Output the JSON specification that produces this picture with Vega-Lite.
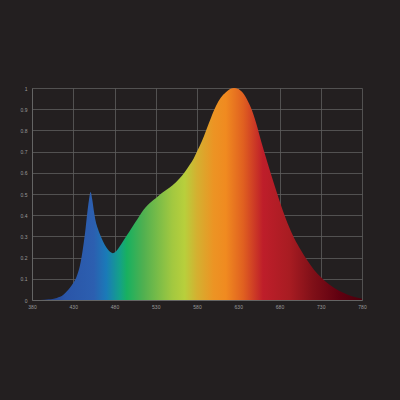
{
  "$schema": "https://vega.github.io/schema/vega-lite/v6.json",
  "width": 330,
  "height": 212,
  "autosize": "none",
  "padding": {"left": 32, "top": 88, "right": 38, "bottom": 100},
  "background": "#231f20",
  "config": {"view": {"stroke": null}},
  "data": {"values": [
    {"nm": 380, "v": 0},
    {"nm": 390, "v": 0},
    {"nm": 400, "v": 0.003},
    {"nm": 410, "v": 0.01},
    {"nm": 418, "v": 0.025},
    {"nm": 422, "v": 0.04},
    {"nm": 426, "v": 0.058},
    {"nm": 430, "v": 0.08},
    {"nm": 434, "v": 0.11},
    {"nm": 438, "v": 0.16},
    {"nm": 442, "v": 0.25},
    {"nm": 445, "v": 0.34},
    {"nm": 447, "v": 0.41},
    {"nm": 449, "v": 0.47},
    {"nm": 451, "v": 0.51},
    {"nm": 453, "v": 0.475},
    {"nm": 455, "v": 0.42},
    {"nm": 457, "v": 0.375},
    {"nm": 460, "v": 0.335},
    {"nm": 464, "v": 0.295},
    {"nm": 468, "v": 0.262},
    {"nm": 472, "v": 0.238},
    {"nm": 475, "v": 0.226},
    {"nm": 478, "v": 0.221},
    {"nm": 481, "v": 0.226},
    {"nm": 485, "v": 0.245},
    {"nm": 490, "v": 0.275},
    {"nm": 495, "v": 0.305},
    {"nm": 500, "v": 0.335},
    {"nm": 505, "v": 0.365},
    {"nm": 510, "v": 0.395},
    {"nm": 515, "v": 0.425},
    {"nm": 520, "v": 0.447},
    {"nm": 525, "v": 0.465},
    {"nm": 530, "v": 0.48},
    {"nm": 537, "v": 0.503},
    {"nm": 543, "v": 0.52},
    {"nm": 550, "v": 0.54},
    {"nm": 559, "v": 0.574},
    {"nm": 565, "v": 0.603},
    {"nm": 571, "v": 0.637},
    {"nm": 576, "v": 0.668},
    {"nm": 580, "v": 0.7},
    {"nm": 586, "v": 0.75},
    {"nm": 591, "v": 0.8},
    {"nm": 597, "v": 0.86},
    {"nm": 603, "v": 0.915},
    {"nm": 609, "v": 0.955},
    {"nm": 615, "v": 0.98},
    {"nm": 620, "v": 0.995},
    {"nm": 625, "v": 1.0},
    {"nm": 630, "v": 0.995},
    {"nm": 636, "v": 0.975},
    {"nm": 642, "v": 0.935},
    {"nm": 648, "v": 0.88},
    {"nm": 652, "v": 0.83},
    {"nm": 658, "v": 0.745},
    {"nm": 666, "v": 0.64},
    {"nm": 674, "v": 0.54},
    {"nm": 682, "v": 0.445},
    {"nm": 690, "v": 0.36},
    {"nm": 698, "v": 0.29},
    {"nm": 706, "v": 0.235},
    {"nm": 714, "v": 0.185},
    {"nm": 722, "v": 0.142},
    {"nm": 730, "v": 0.108},
    {"nm": 738, "v": 0.08},
    {"nm": 746, "v": 0.058},
    {"nm": 754, "v": 0.04},
    {"nm": 762, "v": 0.026},
    {"nm": 770, "v": 0.015},
    {"nm": 780, "v": 0.006}
  ]},
  "mark": {
    "type": "area",
    "interpolate": "monotone",
    "color": {
      "gradient": "linear",
      "x1": 0, "y1": 0, "x2": 1, "y2": 0,
      "stops": [
        {"offset": 0, "color": "#1e2f6a"},
        {"offset": 0.1, "color": "#2a55a8"},
        {"offset": 0.1875, "color": "#2c5fb0"},
        {"offset": 0.225, "color": "#1a7ab8"},
        {"offset": 0.265, "color": "#14a08a"},
        {"offset": 0.2875, "color": "#18b060"},
        {"offset": 0.3375, "color": "#50b050"},
        {"offset": 0.425, "color": "#a2c840"},
        {"offset": 0.4625, "color": "#b8cf3c"},
        {"offset": 0.5, "color": "#d4b030"},
        {"offset": 0.55, "color": "#ec9424"},
        {"offset": 0.5875, "color": "#f08a20"},
        {"offset": 0.64, "color": "#e06020"},
        {"offset": 0.7, "color": "#be1e2a"},
        {"offset": 0.78, "color": "#a81c22"},
        {"offset": 0.85, "color": "#801018"},
        {"offset": 0.9325, "color": "#600010"},
        {"offset": 1, "color": "#4a000c"}
      ]
    }
  },
  "encoding": {
    "x": {
      "field": "nm",
      "type": "quantitative",
      "scale": {"domain": [380, 780], "nice": false, "zero": false},
      "axis": {
        "title": null,
        "values": [380, 430, 480, 530, 580, 630, 680, 730, 780],
        "grid": true,
        "gridColor": "#5e5e5e",
        "gridWidth": 0.8,
        "domainColor": "#6a6a6a",
        "domainWidth": 0.8,
        "ticks": false,
        "labelColor": "#9a9a9a",
        "labelFont": "Liberation Sans",
        "labelFontSize": 5,
        "labelPadding": 4,
        "labelFlush": false
      }
    },
    "y": {
      "field": "v",
      "type": "quantitative",
      "scale": {"domain": [0, 1], "nice": false},
      "axis": {
        "title": null,
        "values": [0, 0.1, 0.2, 0.3, 0.4, 0.5, 0.6, 0.7, 0.8, 0.9, 1],
        "format": "~g",
        "grid": true,
        "gridColor": "#5e5e5e",
        "gridWidth": 0.8,
        "domainColor": "#6a6a6a",
        "domainWidth": 0.8,
        "ticks": false,
        "labelColor": "#9a9a9a",
        "labelFont": "Liberation Sans",
        "labelFontSize": 5,
        "labelPadding": 5,
        "labelFlush": false
      }
    }
  }
}
